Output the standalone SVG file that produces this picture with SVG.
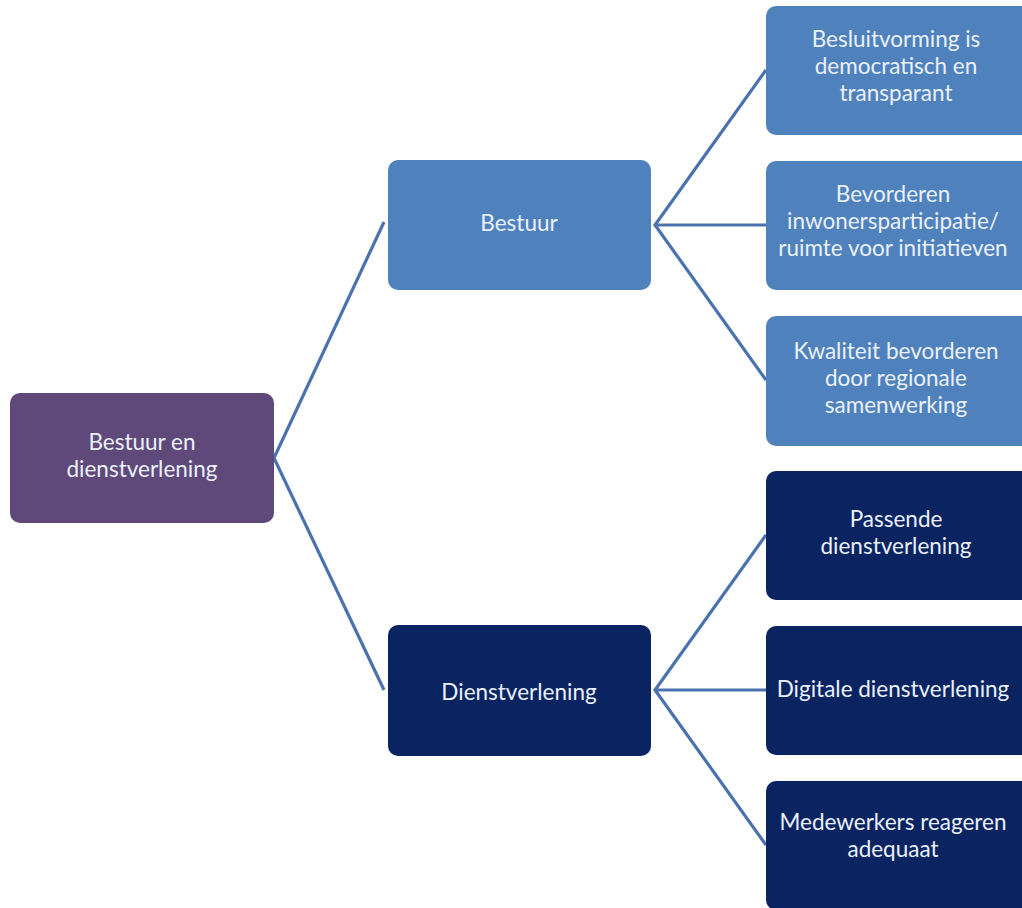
<svg xmlns="http://www.w3.org/2000/svg" width="1022" height="908" viewBox="0 0 1022 908">
<style>
.t{font-family:Lato,"Open Sans","Liberation Sans",sans-serif;font-size:22.5px;text-anchor:middle;fill:#EAF1FB}
.c{fill:none;stroke:#4A72AE;stroke-width:3.2}
.purple{fill:#5F497A}
.blue{fill:#4F81BD}
.navy{fill:#0A2461}
</style>
<rect width="1022" height="908" fill="#ffffff"/>
<g id="connectors">
<polyline class="c" points="384,222 274,458 384,690"/>
<polyline class="c" points="766,70 655,225 766,380"/>
<line class="c" x1="655" y1="225" x2="766" y2="225"/>
<polyline class="c" points="766,535 655,690 766,845"/>
<line class="c" x1="655" y1="690" x2="766" y2="690"/>
</g>
<g id="root"><rect class="purple" x="10" y="393" width="264" height="130" rx="10"/>
<text class="t" x="142" y="450">Bestuur en</text><text class="t" x="142" y="477">dienstverlening</text></g>
<g id="bestuur"><rect class="blue" x="388" y="160" width="263" height="130" rx="10"/>
<text class="t" x="519" y="231">Bestuur</text></g>
<g id="dienstverlening"><rect class="navy" x="388" y="625" width="263" height="131" rx="10"/>
<text class="t" x="519" y="700">Dienstverlening</text></g>
<g id="n1"><rect class="blue" x="766" y="6" width="270" height="129" rx="10"/>
<text class="t" x="896" y="47">Besluitvorming is</text><text class="t" x="896" y="74">democratisch en</text><text class="t" x="896" y="101">transparant</text></g>
<g id="n2"><rect class="blue" x="766" y="161" width="270" height="129" rx="10"/>
<text class="t" x="893" y="202">Bevorderen</text><text class="t" x="893" y="229">inwonersparticipatie/</text><text class="t" x="893" y="256">ruimte voor initiatieven</text></g>
<g id="n3"><rect class="blue" x="766" y="316" width="270" height="130" rx="10"/>
<text class="t" x="896" y="359">Kwaliteit bevorderen</text><text class="t" x="896" y="386">door regionale</text><text class="t" x="896" y="413">samenwerking</text></g>
<g id="n4"><rect class="navy" x="766" y="471" width="270" height="129" rx="10"/>
<text class="t" x="896" y="527">Passende</text><text class="t" x="896" y="554">dienstverlening</text></g>
<g id="n5"><rect class="navy" x="766" y="626" width="270" height="129" rx="10"/>
<text class="t" x="893" y="697">Digitale dienstverlening</text></g>
<g id="n6"><rect class="navy" x="766" y="781" width="270" height="129" rx="10"/>
<text class="t" x="893" y="830">Medewerkers reageren</text><text class="t" x="893" y="857">adequaat</text></g>
</svg>
